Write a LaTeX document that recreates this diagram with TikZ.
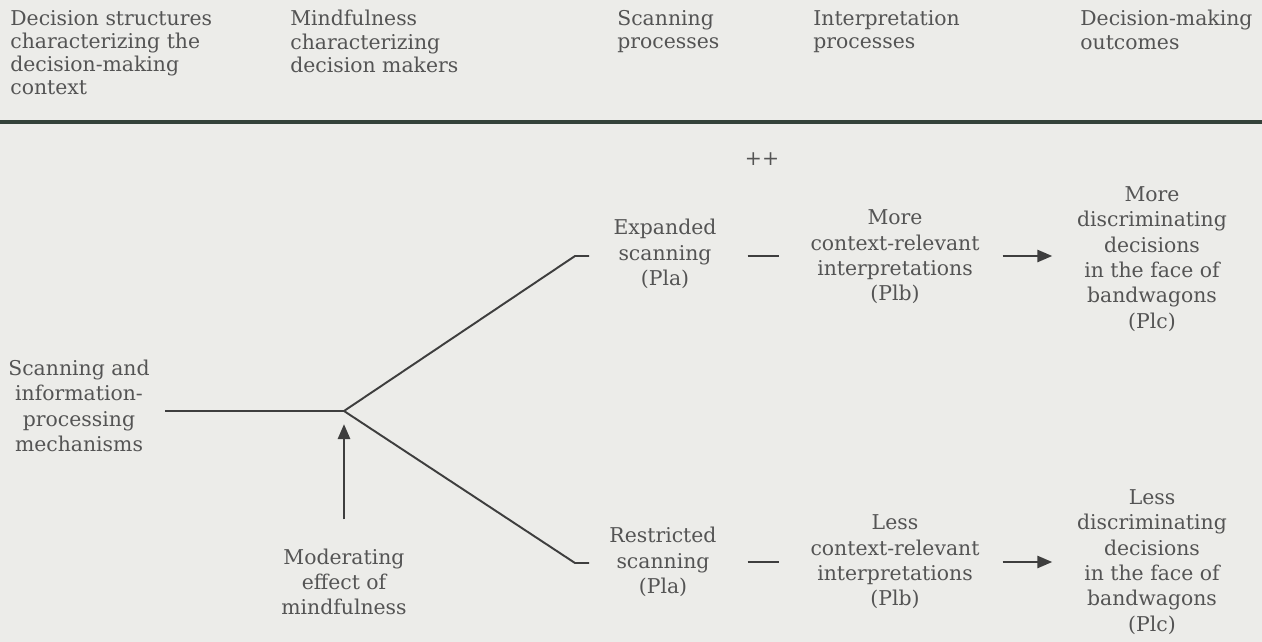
\documentclass[tikz,border=0pt]{standalone}
\usepackage{fontspec}
\setmainfont{DejaVu Serif}
\usetikzlibrary{arrows.meta, positioning}
\definecolor{paper}{RGB}{236,236,233}
\definecolor{ink}{RGB}{84,84,84}
\definecolor{wire}{RGB}{62,62,62}
\definecolor{rulecol}{RGB}{52,66,58}

\begin{document}
\begin{tikzpicture}[
x=0.02cm, y=-0.02cm,
txt/.style={align=center, inner sep=0pt, text=ink, font=\fontsize{11.6}{14.4}\selectfont},
head/.style={txt, align=left, anchor=north west, font=\fontsize{11.6}{13.2}\selectfont},
line/.style={draw=wire, line width=1.1pt},
arr/.style={line, -{Triangle[length=8.5pt, width=7pt]}}
]
\fill[paper] (0,0) rectangle (1262,642);
\useasboundingbox (0,0) rectangle (1262,642);

\node[head] (hctx) at (10,10) {Decision structures\\characterizing the\\decision-making\\context};
\node[head] (hmind) at (290,10) {Mindfulness\\characterizing\\decision makers};
\node[head] (hscan) at (617,10) {Scanning\\processes};
\node[head] (hint) at (813,10) {Interpretation\\processes};
\node[head] (hout) at (1080,10) {Decision-making\\outcomes};
\draw[rulecol, line width=2.5pt] (0,122) -- (1262,122);

\node[txt] (src) at (79,406) {Scanning and\\information-\\processing\\mechanisms};
\coordinate (stem) at (165,411);
\coordinate (fork) at (344,411);
\coordinate (upbend) at (575,256);
\coordinate (upend) at (589,256);
\coordinate (lowbend) at (575,563);
\coordinate (lowend) at (589,563);

\node[txt] (plus) at (762,159) {++};
\node[txt] (exp) at (665,254) {Expanded\\scanning\\(Pla)};
\node[txt] (moreint) at (895,257) {More\\context-relevant\\interpretations\\(Plb)};
\node[txt] (moredec) at (1152,259) {More\\discriminating\\decisions\\in the face of\\bandwagons\\(Plc)};
\node[txt] (res) at (663,562) {Restricted\\scanning\\(Pla)};
\node[txt] (lessint) at (895,562) {Less\\context-relevant\\interpretations\\(Plb)};
\node[txt] (lessdec) at (1152,562) {Less\\discriminating\\decisions\\in the face of\\bandwagons\\(Plc)};
\node[txt] (mod) at (344,582) {Moderating\\effect of\\mindfulness};

\draw[line] (stem) -- (fork) -- (upbend) -- (upend);
\draw[line] (fork) -- (lowbend) -- (lowend);
\draw[line, shorten <=17.5pt, shorten >=18pt] (exp.east |- upend) -- (moreint.west |- upend);
\draw[line, shorten <=17.5pt, shorten >=18pt] (res) -- (lessint);
\draw[arr, shorten <=13pt, shorten >=14pt] (moreint.east |- upend) -- (moredec.west |- upend);
\draw[arr, shorten <=13pt, shorten >=14pt] (lessint) -- (lessdec);
\draw[arr, shorten <=16.5pt, shorten >=7.5pt] (mod) -- (fork);
\end{tikzpicture}
\end{document}
